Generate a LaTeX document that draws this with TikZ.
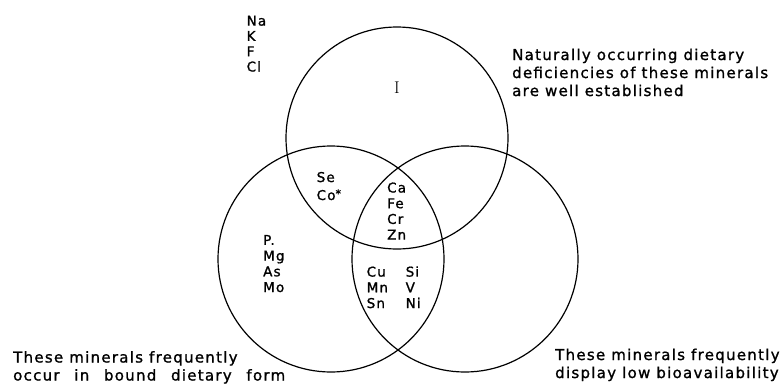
\documentclass[tikz,border=0pt]{standalone}
\usepackage{fontspec}
\newfontfamily\mineralfont{DejaVu Sans}[LetterSpace=8.5, FakeBold=1.2]
\usetikzlibrary{positioning}

\begin{document}
\begin{tikzpicture}[
      x=1pt, y=-1pt,
      set/.style={line width=1.2pt},
      caption/.style={font=\mineralfont\fontsize{15}{18}\selectfont,
                      align=left, inner sep=0pt, anchor=base west},
      elem/.style={font=\mineralfont\fontsize{13.5}{15.7}\selectfont,
                   align=left, inner sep=0pt, anchor=base west}
    ]
    \useasboundingbox (0,0) rectangle (782,383);

    % the three sets
    \coordinate (ctop)   at (397,138);
    \coordinate (cleft)  at (331,259);
    \coordinate (cright) at (465,259);
    \draw[set] (ctop)   circle[radius=111];
    \draw[set] (cleft)  circle[radius=113];
    \draw[set] (cright) circle[radius=113];

    % captions (placed at the baseline of their last line)
    \node[caption] (deficient) at (512,96)
      {Naturally occurring dietary\\deficiencies of these minerals\\are well established};
    \node[caption] (bound) at (13,380.5)
      {These minerals frequently\\\makebox[272pt][s]{occur in bound dietary form}};
    \node[caption] (lowbio) at (555,378)
      {These minerals frequently\\display low bioavailability};

    % minerals in the regions
    \node[elem, font=\mineralfont\fontsize{13.5}{15.3}\selectfont] (outside) at (246.5,71.5) {Na\\K\\F\\Cl};
    \node[font=\fontsize{17}{17}\selectfont, inner sep=0pt] (iodine) at (397,88) {I};
    \node[elem, font=\mineralfont\fontsize{13.5}{18}\selectfont] (topleft) at (316.5,200)
      {Se\\Co\raisebox{2.5pt}{\fontsize{11}{11}\selectfont*}};
    \node[elem] (allthree) at (387,239.6) {Ca\\Fe\\Cr\\Zn};
    \node[elem] (leftonly) at (263,292) {P.\\Mg\\As\\Mo};
    \node[elem] (lowleft) at (366.5,308) {Cu\\Mn\\Sn};
    \node[elem] (lowright) at (405.5,308) {Si\\V\\Ni};
  \end{tikzpicture}
\end{document}
